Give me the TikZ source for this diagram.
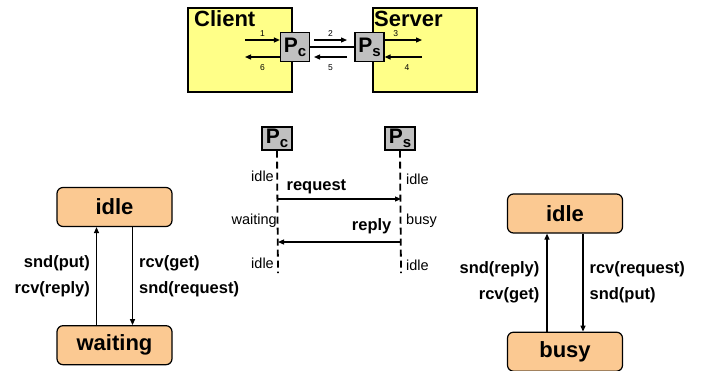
\documentclass[tikz,border=0pt]{standalone}
\usepackage{fontspec}
\setmainfont{Liberation Sans}
\usetikzlibrary{arrows.meta, positioning, calc}
\definecolor{hostyellow}{HTML}{FFFF88}
\definecolor{procgray}{HTML}{C0C0C0}
\definecolor{statefill}{HTML}{FBC992}
\newcommand{\procname}[1]{P\lower4pt\hbox{\fontsize{15}{15}\selectfont\bfseries #1}}
\tikzset{
  hostblock/.style={
    rectangle, draw, line width=1.5pt, fill=hostyellow,
    minimum width=104pt, minimum height=84pt, inner sep=0pt
  },
  hostlabel/.style={
    anchor=base west, inner sep=0pt, font=\fontsize{22}{22}\selectfont\bfseries
  },
  procblock/.style={
    rectangle, draw, line width=1.2pt, fill=procgray, inner sep=0pt,
    minimum width=29pt, minimum height=29pt, font=\fontsize{21}{21}\selectfont\bfseries
  },
  stateblock/.style={
    rectangle, draw, rounded corners=6pt, line width=1.2pt, fill=statefill,
    minimum width=115pt, minimum height=39pt, font=\fontsize{22}{22}\selectfont\bfseries
  },
  msgarrow/.style={
    line width=1.2pt, -{Triangle[length=6pt, width=5pt]}
  },
  lifeline/.style={
    line width=1.8pt, dash pattern=on 7pt off 4pt
  },
  numlabel/.style={font=\fontsize{8.5}{8.5}\selectfont, inner sep=0pt},
  seqstate/.style={font=\fontsize{14.5}{14.5}\selectfont, inner sep=0pt},
  seqmsg/.style={font=\fontsize{16.5}{16.5}\selectfont\bfseries, inner sep=0pt},
  translabel/.style={
    font=\fontsize{16.5}{26}\selectfont\bfseries, inner sep=0pt
  }
}
\begin{document}
\begin{tikzpicture}[x=1pt, y=-1pt]
  \useasboundingbox (0,0) rectangle (703,370);

  % client / server with their processes
  \node[hostblock] (client) at (240,50) {};
  \node[hostblock] (server) at (425,50) {};
  \node[hostlabel] (clientname) at (194,26) {Client};
  \node[hostlabel] (servername) at (374,26) {Server};
  \node[procblock] (pc) at (295,47) {\procname{c}};
  \node[procblock] (ps) at (369.5,47) {\procname{s}};
  \draw[line width=1.5pt] (pc.east) -- (ps.west);

  \coordinate (a1) at (245,40);
  \coordinate (a6) at (245,57);
  \coordinate (a2) at (314,40);
  \coordinate (a5) at (347,57);
  \coordinate (a3) at (422,40);
  \coordinate (a4) at (422,57);
  \draw[msgarrow] (a1) -- (a1 -| pc.west) node[midway, above=3pt, numlabel] {1};
  \draw[msgarrow] (a6 -| pc.west) -- (a6) node[midway, below=7pt, numlabel] {6};
  \draw[msgarrow] (a2) -- (a2 -| a5) node[midway, above=3pt, numlabel] {2};
  \draw[msgarrow] (a5) -- (a5 -| a2) node[midway, below=7pt, numlabel] {5};
  \draw[msgarrow] (a3 -| ps.east) -- (a3) node[pos=0.3, above=3pt, numlabel] {3};
  \draw[msgarrow] (a4) -- (a4 -| ps.east) node[pos=0.4, below=7pt, numlabel] {4};

  % message sequence
  \node[procblock, minimum width=30pt, minimum height=23pt] (spc) at (277,138.5) {\procname{c}};
  \node[procblock, minimum width=30pt, minimum height=23pt] (sps) at (400,138.5) {\procname{s}};
  \coordinate (pcend) at (278,273);
  \coordinate (psend) at (401,273);
  \draw[lifeline] (spc.south) -- (pcend);
  \draw[lifeline] (sps.south) -- (psend);
  \coordinate (reqy) at (0,199);
  \coordinate (repy) at (0,242);
  \draw[msgarrow] (pcend |- reqy) -- (psend |- reqy)
    node[pos=0, anchor=base west, xshift=8pt, yshift=9pt, seqmsg] {request};
  \draw[msgarrow] (psend |- repy) -- (pcend |- repy)
    node[pos=0, anchor=base east, xshift=-9pt, yshift=12pt, seqmsg] {reply};
  \node[seqstate, anchor=base east] (c1) at (274,181) {idle};
  \node[seqstate, anchor=base east] (c2) at (277,224) {waiting};
  \node[seqstate, anchor=base east] (c3) at (274,268) {idle};
  \node[seqstate, anchor=base west] (s1) at (406,184) {idle};
  \node[seqstate, anchor=base west] (s2) at (406,224) {busy};
  \node[seqstate, anchor=base west] (s3) at (406,270) {idle};

  % client state machine
  \node[stateblock] (lidle) at (114.5,207) {idle};
  \node[stateblock, below=98pt of lidle] (lwait) {waiting};
  \draw[msgarrow] ([xshift=-18pt]lwait.north) -- ([xshift=-18pt]lidle.south)
    node[midway, left=6pt, align=right, translabel] {snd(put)\\rcv(reply)};
  \draw[msgarrow] ([xshift=18pt]lidle.south) -- ([xshift=18pt]lwait.north)
    node[midway, right=6pt, align=left, translabel] {rcv(get)\\snd(request)};

  % server state machine
  \node[stateblock] (ridle) at (565,213.5) {idle};
  \node[stateblock, below=98pt of ridle] (rbusy) {busy};
  \draw[msgarrow] ([xshift=-18pt]rbusy.north) -- ([xshift=-18pt]ridle.south)
    node[midway, left=7pt, align=right, translabel] {snd(reply)\\rcv(get)};
  \draw[msgarrow] ([xshift=18pt]ridle.south) -- ([xshift=18pt]rbusy.north)
    node[midway, right=6pt, align=left, translabel] {rcv(request)\\snd(put)};
\end{tikzpicture}
\end{document}
